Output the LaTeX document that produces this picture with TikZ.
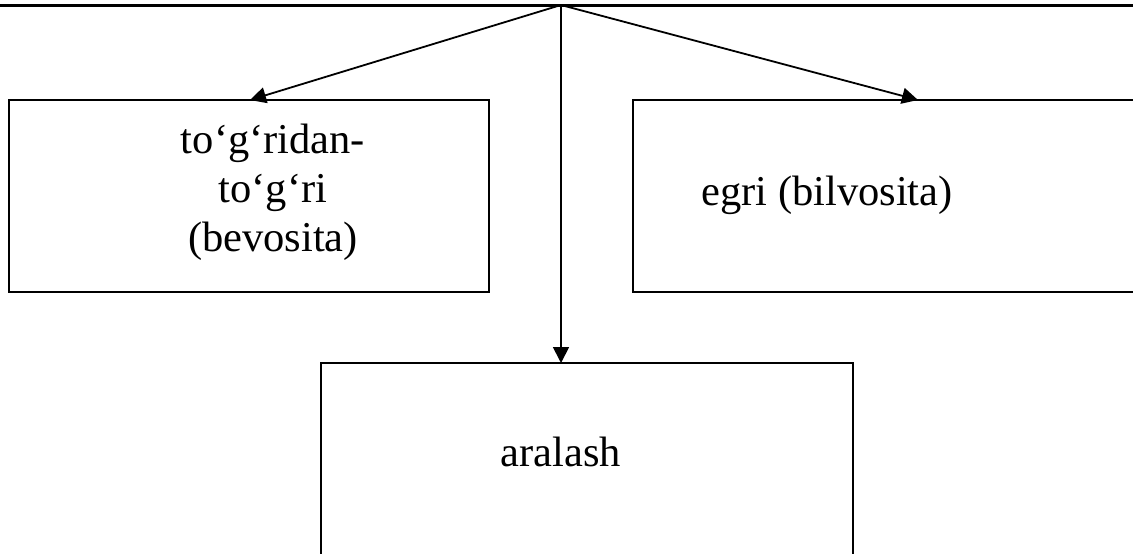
\documentclass[tikz,border=0pt]{standalone}
\usepackage{fontspec}
\setmainfont{Liberation Serif}
\usetikzlibrary{arrows.meta}
\begin{document}
\begin{tikzpicture}[x=1pt,y=-1pt,
  boxnode/.style={draw,line width=2pt,inner sep=0pt,outer sep=0pt},
  txt/.style={inner sep=0pt,font=\fontsize{42.5}{49}\selectfont,align=center},
  arr/.style={line width=1.8pt,-{Triangle[length=16pt,width=16pt]}}]
\useasboundingbox (0,0) rectangle (1133,554);
\clip (0,0) rectangle (1133,554);
\fill[white] (0,0) rectangle (1133,554);
% top edge of upper box
\node[boxnode,line width=3pt,minimum width=1160pt,minimum height=100pt,anchor=south] (topbox) at (566,5) {};
\coordinate (apex) at (561,5);
% boxes
\node[boxnode,minimum width=480pt,minimum height=192pt,anchor=north west] (lbox) at (9,100) {};
\node[boxnode,minimum width=520pt,minimum height=192pt,anchor=north west] (rbox) at (633,100) {};
\node[boxnode,minimum width=532pt,minimum height=220pt,anchor=north west] (bbox) at (321,363) {};
% texts
\node[txt] (ltext) at (273,192) {to‘g‘ridan-\\to‘g‘ri\\(bevosita)};
\node[txt,anchor=base] (rtext) at (827,205) {egri (bilvosita)};
\node[txt,anchor=base] (btext) at (561,466) {aralash};
% arrow ends
\coordinate (lend) at (250,100);
\coordinate (rend) at (918,100);
\coordinate (bend) at (561,363);
\draw[arr] (apex) -- (lend);
\draw[arr] (apex) -- (rend);
\draw[arr] (apex) -- (bend);
\end{tikzpicture}
\end{document}
